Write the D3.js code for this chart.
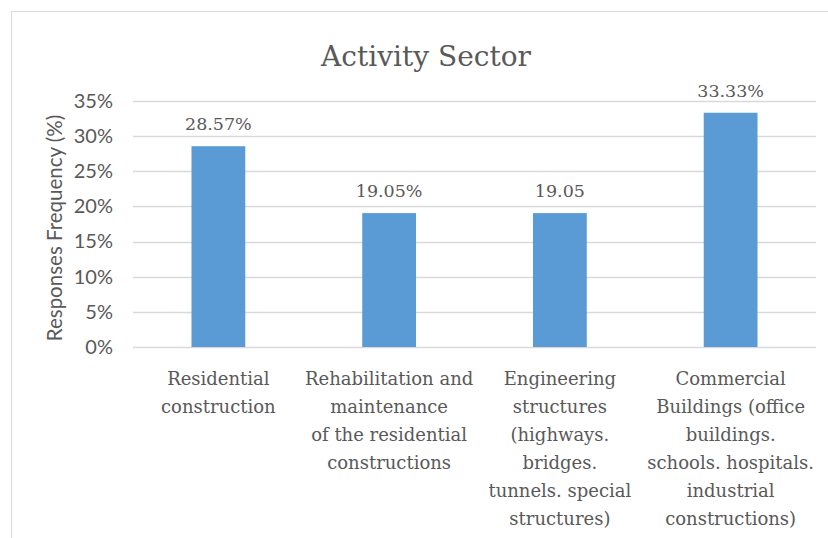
<!DOCTYPE html>
<html>
<head>
<meta charset="utf-8">
<script src="https://cdn.jsdelivr.net/npm/d3@7"></script>
<style>
  html, body { margin: 0; padding: 0; background: #fff; }
  svg { display: block; }
</style>
</head>
<body>
<svg id="chart" width="828" height="538"></svg>
<script>
// Activity sector of survey respondents
const categories = [
  ["Residential", "construction"],
  ["Rehabilitation and", "maintenance", "of the residential", "constructions"],
  ["Engineering", "structures", "(highways.", "bridges.", "tunnels. special", "structures)"],
  ["Commercial", "Buildings (office", "buildings.", "schools. hospitals.", "industrial", "constructions)"]
];
const values = [28.57, 19.05, 19.05, 33.33];
const valueLabels = ["28.57%", "19.05%", "19.05", "33.33%"];
const yTicks = [0, 5, 10, 15, 20, 25, 30, 35];

const svg = d3.select("#chart");
const serif = "'DejaVu Serif', 'Liberation Serif', serif";
const sans = "Lato, 'Open Sans', sans-serif";
const textColor = "#595959";

// chart frame
svg.append("rect")
  .attr("x", 11.5).attr("y", 11.5)
  .attr("width", 900).attr("height", 600)
  .attr("fill", "#fff").attr("stroke", "#d9d9d9").attr("stroke-width", 1);

const plot = { left: 133, right: 816, top: 101, bottom: 347 };

const x = d3.scaleBand()
  .domain(d3.range(categories.length))
  .range([plot.left, plot.right])
  .paddingInner(0.685)
  .paddingOuter(0.3425);

const y = d3.scaleLinear().domain([0, 35]).range([plot.bottom, plot.top]);

// gridlines
svg.append("g")
  .selectAll("line")
  .data(yTicks)
  .join("line")
  .attr("x1", plot.left).attr("x2", plot.right)
  .attr("y1", d => Math.round(y(d)) + 0.5)
  .attr("y2", d => Math.round(y(d)) + 0.5)
  .attr("stroke", "#d9d9d9").attr("stroke-width", 1.3);

// y axis labels
const yAxis = d3.axisLeft(y).tickValues(yTicks).tickFormat(d => d + "%").tickSize(0).tickPadding(0);
const gy = svg.append("g").attr("transform", `translate(${plot.left - 20},0)`).call(yAxis);
gy.select(".domain").remove();
gy.selectAll("text")
  .attr("fill", textColor)
  .style("font-family", sans)
  .style("font-size", "20px");

// bars
svg.append("g")
  .selectAll("rect")
  .data(values)
  .join("rect")
  .attr("x", (d, i) => x(i))
  .attr("width", x.bandwidth())
  .attr("y", d => y(d))
  .attr("height", d => y(0) - y(d))
  .attr("fill", "#5b9bd5");

// value labels
svg.append("g")
  .selectAll("text")
  .data(values)
  .join("text")
  .attr("x", (d, i) => x(i) + x.bandwidth() / 2)
  .attr("y", d => y(d) - 16)
  .attr("text-anchor", "middle")
  .attr("fill", textColor)
  .style("font-family", serif)
  .style("font-size", "17.5px")
  .text((d, i) => valueLabels[i]);

// category labels
const cat = svg.append("g")
  .selectAll("text")
  .data(categories)
  .join("text")
  .attr("x", (d, i) => x(i) + x.bandwidth() / 2)
  .attr("y", 385)
  .attr("text-anchor", "middle")
  .attr("fill", textColor)
  .style("font-family", serif)
  .style("font-size", "18px");
cat.selectAll("tspan")
  .data(d => d)
  .join("tspan")
  .attr("x", function () { return this.parentNode.getAttribute("x"); })
  .attr("dy", (d, j) => j === 0 ? 0 : 28)
  .text(d => d);

// y axis title
svg.append("text")
  .attr("transform", `translate(62,${(plot.top + plot.bottom) / 2 + 4}) rotate(-90)`)
  .attr("text-anchor", "middle")
  .attr("fill", textColor)
  .style("font-family", sans)
  .style("font-size", "20.5px")
  .text("Responses Frequency (%)");

// title
svg.append("text")
  .attr("x", 426).attr("y", 66)
  .attr("text-anchor", "middle")
  .attr("fill", textColor)
  .style("font-family", serif)
  .style("font-size", "28px")
  .text("Activity Sector");
</script>
</body>
</html>
